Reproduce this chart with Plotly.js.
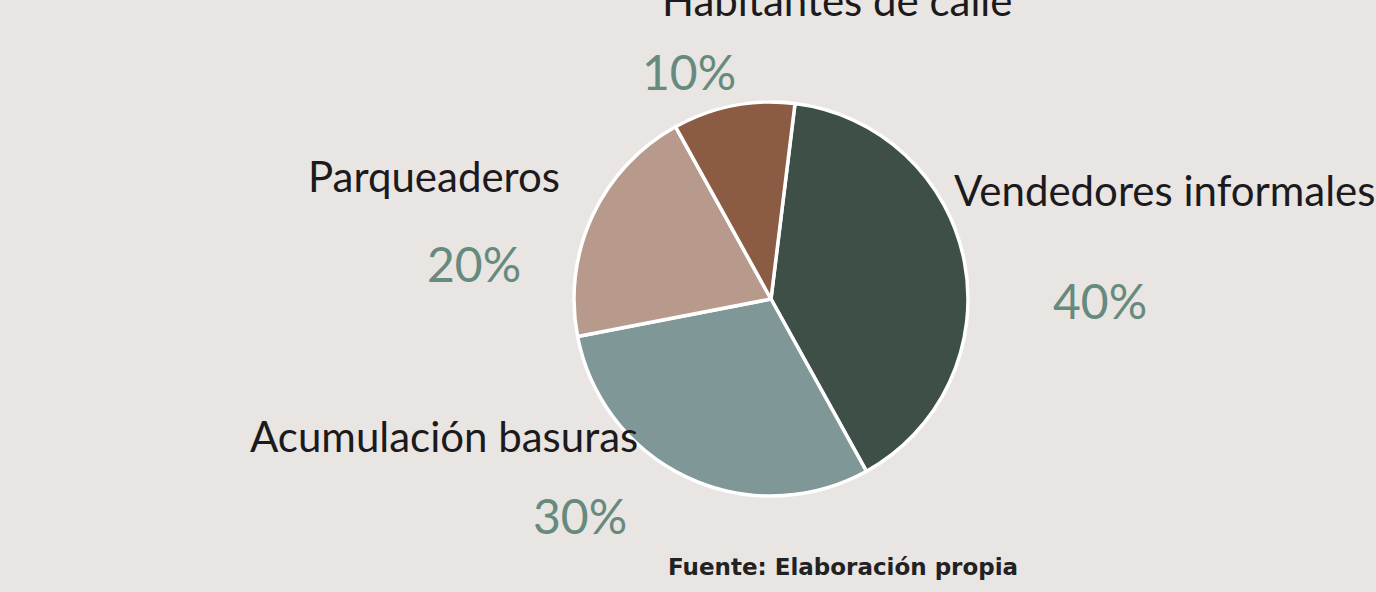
<!DOCTYPE html>
<html>
<head>
<meta charset="utf-8">
<script src="https://cdn.plot.ly/plotly-3.0.1.min.js"></script>
<style>
html,body{margin:0;padding:0;background:#e9e5e2;}
#chart{width:1376px;height:592px;}
</style>
</head>
<body>
<div id="chart"></div>
<script>
var categories = ["Vendedores informales", "Acumulación basuras", "Parqueaderos", "Habitantes de calle"];
var values = [40, 30, 20, 10];
var percentLabels = ["40%", "30%", "20%", "10%"];
var sliceColors = ["#3d4f47", "#7f9797", "#b89a8c", "#8b5b44"];

var W = 1376, H = 592;
function px(x){ return x / W; }
function py(y){ return 1 - y / H; }

var cx = 771, cy = 299, r = 197;

var trace = {
  type: "pie",
  labels: categories,
  values: values,
  sort: false,
  direction: "clockwise",
  rotation: 7,
  textinfo: "none",
  hoverinfo: "label+percent",
  marker: { colors: sliceColors, line: { color: "#ffffff", width: 3.5 } },
  domain: { x: [px(cx - r), px(cx + r)], y: [py(cy + r), py(cy - r)] },
  showlegend: false
};

var nameFont = { family: "Lato, sans-serif", size: 42, color: "#1c1a1c" };
var pctFont = { family: "Lato, sans-serif", size: 48, color: "#678a7e" };

// label positions (pixels) for each category: [name x, name y, anchor]
var namePos = [[952, 190, "left"], [444, 436, "center"], [434, 176, "center"], [837, 0, "center"]];
var pctPos = [[1100, 300], [580, 515], [474, 263], [689, 72]];

var annotations = [];
for (var i = 0; i < categories.length; i++) {
  annotations.push({
    xref: "paper", yref: "paper",
    x: px(namePos[i][0]), y: py(namePos[i][1]),
    xanchor: namePos[i][2], yanchor: "middle",
    text: categories[i], showarrow: false, font: nameFont
  });
  annotations.push({
    xref: "paper", yref: "paper",
    x: px(pctPos[i][0]), y: py(pctPos[i][1]),
    xanchor: "center", yanchor: "middle",
    text: percentLabels[i], showarrow: false, font: pctFont
  });
}
annotations.push({
  xref: "paper", yref: "paper",
  x: px(843), y: py(567), xanchor: "center", yanchor: "middle",
  text: "<b>Fuente: Elaboración propia</b>", showarrow: false,
  font: { family: "DejaVu Sans, sans-serif", size: 23, color: "#222222" }
});

var layout = {
  width: W, height: H,
  margin: { l: 0, r: 0, t: 0, b: 0 },
  paper_bgcolor: "#e9e5e2",
  plot_bgcolor: "#e9e5e2",
  annotations: annotations
};

Plotly.newPlot("chart", [trace], layout, { displayModeBar: false, staticPlot: true });
</script>
</body>
</html>
